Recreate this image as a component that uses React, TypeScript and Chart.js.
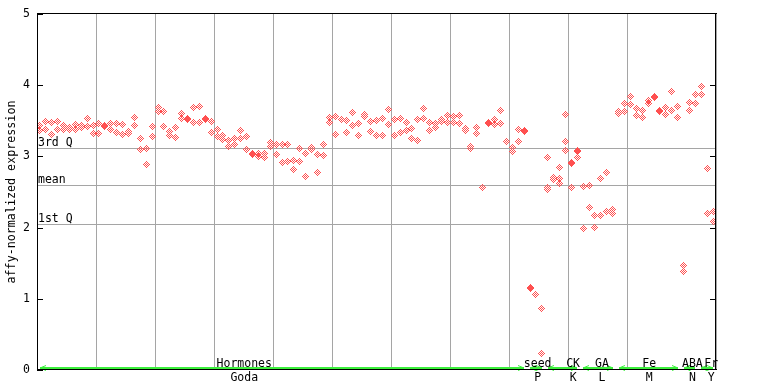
import { useEffect, useRef } from "react";
import { Chart, registerables } from "chart.js";

Chart.register(...registerables);

// ---- data ----
// first replicate per sample column
const rep1: number[] = [
  3.437, 3.497, 3.479, 3.497, 3.431, 3.403, 3.451, 3.431, 3.539, 3.437,
  3.469, 3.437, 3.465, 3.465, 3.451, 3.347, 3.549, 3.254, 3.114, 3.423,
  3.689, 3.628, 3.352, 3.409, 3.605, 3.539, 3.690, 3.704, 3.535, 3.493,
  3.381, 3.296, 3.226, 3.254, 3.367, 3.282, 3.044, 3.044, 3.044, 3.198,
  3.170, 3.170, 3.170, 2.945, 3.114, 3.044, 3.128, 3.029, 3.170, 3.549,
  3.563, 3.521, 3.507, 3.619, 3.465, 3.591, 3.493, 3.507, 3.535, 3.662,
  3.521, 3.535, 3.479, 3.395, 3.521, 3.676, 3.479, 3.465, 3.521, 3.577,
  3.563, 3.577, 3.395, 3.142, 3.409, 2.566, 3.479, 3.521, 3.647, 3.212,
  3.128, 3.381, 3.364, 1.162, 1.063, 0.867, 2.987, 2.706, 2.847, 3.591,
  2.917, 3.079, 2.580, 2.594, 2.173, 2.692, 2.777, 2.257, 3.633, 3.746,
  3.844, 3.676, 3.647, 3.788, 3.837, 3.649, 3.690, 3.914, 3.704, 1.461,
  3.760, 3.872, 3.985, 2.833, 2.229,
];
// second replicate per sample column
const rep2: number[] = [
  3.357, 3.371, 3.310, 3.371, 3.371, 3.371, 3.371, 3.403, 3.423, 3.324,
  3.324, 3.413, 3.371, 3.338, 3.310, 3.324, 3.437, 3.100, 2.889, 3.282,
  3.633, 3.413, 3.296, 3.268, 3.535, 3.525, 3.479, 3.479, 3.521, 3.338,
  3.282, 3.240, 3.142, 3.170, 3.254, 3.100, 3.029, 3.001, 2.987, 3.142,
  3.029, 2.917, 2.931, 2.819, 2.931, 2.721, 3.100, 2.777, 3.015, 3.479,
  3.310, 3.521, 3.338, 3.437, 3.296, 3.563, 3.352, 3.296, 3.296, 3.451,
  3.296, 3.338, 3.367, 3.254, 3.226, 3.535, 3.367, 3.409, 3.493, 3.479,
  3.479, 3.465, 3.367, 3.114, 3.324, 2.566, 3.465, 3.451, 3.465, 3.212,
  3.072, 3.212, 3.350, 1.138, 1.063, 0.235, 2.566, 2.678, 2.692, 3.212,
  2.903, 3.065, 1.990, 2.285, 2.004, 2.173, 2.229, 2.201, 3.605, 3.633,
  3.732, 3.577, 3.549, 3.746, 3.823, 3.635, 3.591, 3.647, 3.549, 1.390,
  3.647, 3.746, 3.872, 2.201, 2.088,
];
// third replicate, only for a few columns
const extraCols: number[] = [86, 88, 89, 90, 91];
const extraVals: number[] = [2.538, 2.622, 3.086, 2.566, 2.987];

const yTicks: number[] = [0, 1, 2, 3, 4, 5];
const yTitle = "affy-normalized expression";

const qValues: number[] = [3.114, 2.594, 2.046];
const qLabels: string[] = ["3rd Q", "mean", "1st Q"];

const groupNames: string[] = ["Hormones", "seed", "CK", "GA", "Fe", "ABA", "Fr"];
const groupCodes: string[] = ["Goda", "P", "K", "L", "M", "N", "Y"];
const groupStart: number[] = [0, 83, 86, 92, 98, 109, 112];
const groupEnd: number[] = [82, 85, 91, 97, 108, 111, 114];
const groupLabelAt: number[] = [35.1, 84.8, 90.8, 95.7, 103.7, 111.0, 114.2];

const NCOL = rep1.length;
const FONT = "DejaVu Sans Mono";

function makeDiamond(color: string): HTMLCanvasElement {
  const c = document.createElement("canvas");
  c.width = 7;
  c.height = 7;
  const g = c.getContext("2d")!;
  g.fillStyle = color;
  for (let dy = -3; dy <= 3; dy++) {
    for (let dx = -3; dx <= 3; dx++) {
      const d = Math.abs(dx) + Math.abs(dy);
      if (d <= 3 && d % 2 === 1) g.fillRect(dx + 3, dy + 3, 1, 1);
    }
  }
  return c;
}

export default function App() {
  const ref = useRef<HTMLCanvasElement | null>(null);

  useEffect(() => {
    document.body.style.margin = "0";
    const canvas = ref.current!;
    const marker = makeDiamond("rgb(255,80,80)");

    const pts1 = rep1.map((v, i) => ({ x: i + 0.5, y: v }));
    const pts2 = rep2.map((v, i) => ({ x: i + 0.5, y: v }));
    const pts3 = extraCols.map((c, k) => ({ x: c + 0.5, y: extraVals[k] }));

    const overlay = {
      id: "overlay",
      beforeDatasetsDraw(chart: any) {
        const { ctx, chartArea } = chart;
        const ys = chart.scales.y;
        ctx.save();
        ctx.fillStyle = "#a5a5a5";
        qValues.forEach((q) => {
          const y = Math.round(ys.getPixelForValue(q));
          ctx.fillRect(chartArea.left, y, chartArea.right - chartArea.left, 1);
        });
        ctx.fillStyle = "#000";
        ctx.font = `11.5px "${FONT}"`;
        ctx.textAlign = "left";
        ctx.textBaseline = "alphabetic";
        qValues.forEach((q, k) => {
          const y = Math.round(ys.getPixelForValue(q));
          ctx.fillText(qLabels[k], chartArea.left + 1, y - 2);
        });
        ctx.restore();
        ctx.imageSmoothingEnabled = false;
      },
      afterDatasetsDraw(chart: any) {
        const { ctx, chartArea } = chart;
        const xs = chart.scales.x;
        const ys = chart.scales.y;
        const L = chartArea.left;
        const R = chartArea.right;
        const T = chartArea.top;
        const B = chartArea.bottom;
        ctx.save();
        // green group arrows
        ctx.strokeStyle = "rgb(60,240,60)";
        ctx.fillStyle = "rgb(60,240,60)";
        ctx.lineWidth = 2;
        const gy = B - 2;
        for (let k = 0; k < groupNames.length; k++) {
          const x0 = Math.round(xs.getPixelForValue(groupStart[k] + 0.5));
          const x1 = Math.round(xs.getPixelForValue(groupEnd[k] + 0.5));
          ctx.beginPath();
          ctx.moveTo(x0, gy);
          ctx.lineTo(x1, gy);
          ctx.stroke();
          ctx.lineWidth = 1;
          ctx.beginPath();
          ctx.moveTo(x0 + 6, gy - 2.5);
          ctx.lineTo(x0, gy);
          ctx.lineTo(x0 + 6, gy + 2.5);
          ctx.moveTo(x1 - 6, gy - 2.5);
          ctx.lineTo(x1, gy);
          ctx.lineTo(x1 - 6, gy + 2.5);
          ctx.stroke();
          ctx.lineWidth = 2;
        }
        // group labels
        ctx.fillStyle = "#000";
        ctx.font = `11.5px "${FONT}"`;
        ctx.textAlign = "center";
        ctx.textBaseline = "alphabetic";
        for (let k = 0; k < groupNames.length; k++) {
          const x = xs.getPixelForValue(groupLabelAt[k]);
          ctx.fillText(groupNames[k], x, B - 3);
          ctx.fillText(groupCodes[k], x, B + 11);
        }
        // frame
        ctx.fillStyle = "#000";
        ctx.fillRect(L, T - 1, R - L + 1, 1);
        ctx.fillRect(L, T - 1, 1, B - T + 1);
        ctx.fillRect(R - 1, T - 1, 1, B - T + 1);
        ctx.fillRect(L, B - 1, R - L + 1, 1);
        // inner ticks
        yTicks.forEach((t) => {
          const y = Math.round(ys.getPixelForValue(t));
          ctx.fillRect(L, y, 6, 1);
          if (t > 0 && t < 5) ctx.fillRect(R - 6, y, 6, 1);
        });
        ctx.restore();
      },
    };

    const ds = (data: any[]) => ({
      data,
      pointStyle: marker,
      pointRadius: 3.5,
      pointHoverRadius: 3.5,
      showLine: false,
    });

    const chart = new Chart(canvas, {
      type: "scatter",
      data: { datasets: [ds(pts1), ds(pts2), ds(pts3)] },
      options: {
        responsive: false,
        animation: false,
        devicePixelRatio: 1,
        events: [],
        layout: { padding: { top: 14, right: 52, left: 0, bottom: 0 } },
        plugins: { legend: { display: false }, tooltip: { enabled: false } },
        scales: {
          x: {
            type: "linear",
            min: 0,
            max: NCOL,
            ticks: { display: false, stepSize: 10 },
            grid: { color: "#a5a5a5", lineWidth: 1, drawTicks: false },
            border: { display: false },
            afterFit: (s: any) => {
              s.height = 14;
            },
          },
          y: {
            type: "linear",
            min: 0,
            max: 5,
            afterBuildTicks: (s: any) => {
              s.ticks = yTicks.map((v) => ({ value: v }));
            },
            ticks: {
              color: "#000",
              padding: 7,
              font: { family: FONT, size: 11.5 },
            },
            grid: { display: false, drawTicks: false },
            border: { display: false },
            title: {
              display: true,
              text: yTitle,
              color: "#000",
              font: { family: FONT, size: 11.7 },
              padding: { top: 5, bottom: 0 },
            },
            afterFit: (s: any) => {
              s.width = 37;
            },
          },
        },
      },
      plugins: [overlay],
    } as any);

    return () => chart.destroy();
  }, []);

  return (
    <div style={{ width: 768, height: 384 }}>
      <canvas ref={ref} width={768} height={384} style={{ display: "block" }} />
    </div>
  );
}
